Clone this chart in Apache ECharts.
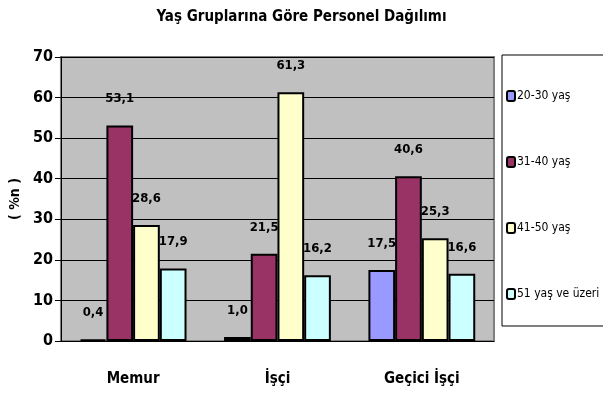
<!DOCTYPE html>
<html>
<head>
<meta charset="utf-8">
<script src="https://cdn.jsdelivr.net/npm/echarts@6/dist/echarts.min.js"></script>
<style>
html, body { margin: 0; padding: 0; background: #fff; }
#chart { width: 603px; height: 405px; }
</style>
</head>
<body>
<div id="chart"></div>
<script>
// Yaş gruplarına göre personel dağılımı
var categories = ['Memur', 'İşçi', 'Geçici İşçi'];
var seriesNames = ['20-30 yaş', '31-40 yaş', '41-50 yaş', '51 yaş ve üzeri'];
var age2030 = [0.4, 1.0, 17.5];
var age3140 = [53.1, 21.5, 40.6];
var age4150 = [28.6, 61.3, 25.3];
var age51up = [17.9, 16.2, 16.6];
var colors = ['#9999FF', '#993366', '#FFFFCC', '#CCFFFF'];

var fontNarrow = '"DejaVu Sans Condensed", "Liberation Sans Narrow", sans-serif';

function makeSeries(name, data, color){
    return {
        name: name,
        type: 'bar',
        data: data,
        barGap: 0,
        barCategoryGap: '26%',
        itemStyle: {
            color: color,
            borderColor: '#000',
            borderWidth: 2
        },
        label: {
            show: true,
            position: 'top',
            distance: 20,
            color: '#000',
            fontFamily: fontNarrow,
            fontWeight: 'bold',
            fontSize: 13,
            formatter: function(p){
                return p.value.toFixed(1).replace('.', ',');
            }
        }
    };
}

var chartInstance = echarts.init(document.getElementById('chart'));
var option = {
    animation: false,
    title: {
        text: 'Yaş Gruplarına Göre Personel Dağılımı',
        left: 'center',
        top: 5,
        textStyle: {
            fontFamily: fontNarrow,
            fontWeight: 'bold',
            fontSize: 15,
            color: '#000'
        }
    },
    legend: {
        orient: 'vertical',
        left: 502,
        top: 55,
        data: seriesNames,
        itemWidth: 8,
        itemHeight: 10,
        itemGap: 54,
        padding: [35, 6, 26, 4],
        borderColor: '#000',
        borderWidth: 1,
        itemStyle: { borderColor: '#000', borderWidth: 2 },
        textStyle: {
            fontFamily: fontNarrow,
            fontSize: 12,
            color: '#000',
            padding: [0, 0, 0, -3]
        }
    },
    grid: {
        left: 57,
        right: 109,
        top: 57,
        bottom: 64,
        show: true,
        backgroundColor: '#C0C0C0',
        borderColor: '#808080',
        borderWidth: 2
    },
    xAxis: {
        type: 'category',
        data: categories,
        axisLine: { lineStyle: { color: '#000', width: 1 } },
        axisTick: { length: 7, lineStyle: { color: '#000' } },
        axisLabel: {
            margin: 31,
            color: '#000',
            fontFamily: fontNarrow,
            fontWeight: 'bold',
            fontSize: 15
        }
    },
    yAxis: {
        type: 'value',
        min: 0,
        max: 70,
        interval: 10,
        name: '( %n )',
        nameLocation: 'middle',
        nameGap: 34,
        nameTextStyle: {
            fontFamily: fontNarrow,
            fontWeight: 'bold',
            fontSize: 14,
            color: '#000'
        },
        axisLine: { show: true, lineStyle: { color: '#000', width: 1 } },
        axisTick: { show: true, length: 6, lineStyle: { color: '#000' } },
        axisLabel: {
            margin: 8,
            color: '#000',
            fontFamily: fontNarrow,
            fontWeight: 'bold',
            fontSize: 16
        },
        splitLine: { lineStyle: { color: '#000', width: 1 } }
    },
    series: [
        makeSeries(seriesNames[0], age2030, colors[0]),
        makeSeries(seriesNames[1], age3140, colors[1]),
        makeSeries(seriesNames[2], age4150, colors[2]),
        makeSeries(seriesNames[3], age51up, colors[3])
    ]
};
chartInstance.setOption(option, true);
</script>
</body>
</html>
